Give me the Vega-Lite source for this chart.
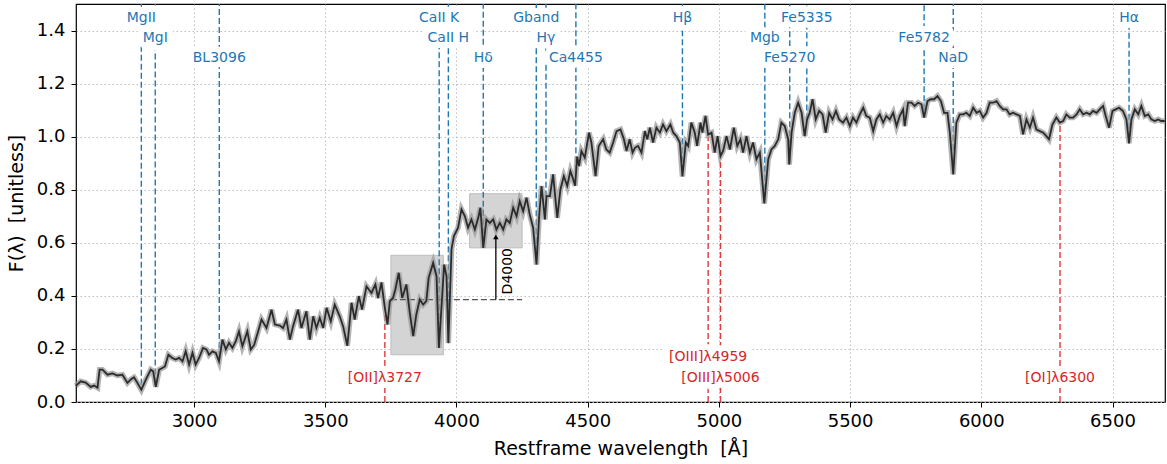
{
  "$schema": "https://vega.github.io/schema/vega-lite/v6.json",
  "width": 1089,
  "height": 398,
  "autosize": {"type": "none"},
  "padding": {"left": 76, "top": 4, "right": 2, "bottom": 62},
  "background": "white",
  "config": {
    "view": {"stroke": "black", "strokeWidth": 1.2},
    "font": "DejaVu Sans",
    "axis": {
      "labelFont": "DejaVu Sans", "labelFontSize": 18, "labelColor": "black",
      "titleFont": "DejaVu Sans", "titleFontSize": 19, "titleFontWeight": "normal", "titleColor": "black",
      "tickColor": "black", "tickSize": 5, "tickWidth": 1, "domain": false,
      "gridColor": "#b8b8b8", "gridDash": [1.5, 2.5], "gridWidth": 0.9
    }
  },
  "datasets": {
    "spec": [
      {"w":2549,"f":0.061},{"w":2568,"f":0.078},{"w":2587,"f":0.073},{"w":2606,"f":0.057},{"w":2619,"f":0.062},{"w":2632,"f":0.054},{"w":2640,"f":0.122},{"w":2651,"f":0.122},{"w":2670,"f":0.103},{"w":2689,"f":0.108},{"w":2708,"f":0.100},{"w":2727,"f":0.103},{"w":2746,"f":0.072},{"w":2759,"f":0.085},{"w":2771,"f":0.093},{"w":2784,"f":0.072},{"w":2799,"f":0.046},{"w":2816,"f":0.084},{"w":2835,"f":0.122},{"w":2844,"f":0.116},{"w":2854,"f":0.057},{"w":2867,"f":0.122},{"w":2879,"f":0.128},{"w":2889,"f":0.134},{"w":2902,"f":0.178},{"w":2917,"f":0.166},{"w":2930,"f":0.160},{"w":2943,"f":0.166},{"w":2956,"f":0.153},{"w":2968,"f":0.191},{"w":2981,"f":0.141},{"w":2994,"f":0.185},{"w":3006,"f":0.141},{"w":3019,"f":0.166},{"w":3034,"f":0.204},{"w":3047,"f":0.198},{"w":3057,"f":0.178},{"w":3070,"f":0.191},{"w":3083,"f":0.185},{"w":3095,"f":0.153},{"w":3108,"f":0.235},{"w":3121,"f":0.198},{"w":3133,"f":0.223},{"w":3146,"f":0.204},{"w":3159,"f":0.229},{"w":3171,"f":0.266},{"w":3184,"f":0.210},{"w":3203,"f":0.266},{"w":3216,"f":0.198},{"w":3229,"f":0.215},
      {"w":3244,"f":0.266},{"w":3257,"f":0.311},{"w":3276,"f":0.279},{"w":3295,"f":0.348},{"w":3308,"f":0.292},{"w":3327,"f":0.288},{"w":3339,"f":0.279},{"w":3352,"f":0.311},{"w":3365,"f":0.235},{"w":3377,"f":0.285},{"w":3396,"f":0.348},{"w":3409,"f":0.279},{"w":3428,"f":0.342},{"w":3441,"f":0.235},{"w":3454,"f":0.323},{"w":3466,"f":0.279},{"w":3479,"f":0.317},{"w":3492,"f":0.279},{"w":3505,"f":0.355},{"w":3521,"f":0.304},{"w":3536,"f":0.367},{"w":3555,"f":0.323},{"w":3568,"f":0.285},{"w":3584,"f":0.212},{"w":3600,"f":0.374},{"w":3612,"f":0.311},{"w":3628,"f":0.399},{"w":3640,"f":0.348},{"w":3657,"f":0.436},{"w":3676,"f":0.411},{"w":3691,"f":0.443},{"w":3701,"f":0.392},{"w":3714,"f":0.451},{"w":3727,"f":0.355},{"w":3737,"f":0.292},{"w":3746,"f":0.380},{"w":3758,"f":0.392},{"w":3767,"f":0.424},{"w":3780,"f":0.487},{"w":3793,"f":0.392},{"w":3809,"f":0.443},{"w":3822,"f":0.336},{"w":3835,"f":0.248},{"w":3847,"f":0.330},{"w":3860,"f":0.386},{"w":3873,"f":0.367},{"w":3885,"f":0.380},{"w":3894,"f":0.468},{"w":3911,"f":0.524},{"w":3924,"f":0.474},{"w":3933,"f":0.204},{"w":3943,"f":0.361},{"w":3953,"f":0.518},{"w":3962,"f":0.474},{"w":3969,"f":0.222},
      {"w":3981,"f":0.575},{"w":3990,"f":0.625},{"w":4006,"f":0.657},{"w":4019,"f":0.726},{"w":4032,"f":0.700},{"w":4044,"f":0.657},{"w":4057,"f":0.688},{"w":4070,"f":0.650},{"w":4083,"f":0.694},{"w":4091,"f":0.732},{"w":4102,"f":0.581},{"w":4114,"f":0.688},{"w":4127,"f":0.675},{"w":4140,"f":0.688},{"w":4152,"f":0.650},{"w":4165,"f":0.675},{"w":4178,"f":0.650},{"w":4190,"f":0.688},{"w":4203,"f":0.675},{"w":4216,"f":0.732},{"w":4229,"f":0.700},{"w":4241,"f":0.757},{"w":4254,"f":0.719},{"w":4267,"f":0.770},{"w":4279,"f":0.707},{"w":4292,"f":0.657},{"w":4305,"f":0.518},{"w":4315,"f":0.700},{"w":4324,"f":0.814},{"w":4337,"f":0.688},{"w":4343,"f":0.776},{"w":4356,"f":0.776},{"w":4368,"f":0.858},{"w":4384,"f":0.694},{"w":4396,"f":0.801},{"w":4409,"f":0.851},{"w":4422,"f":0.814},{"w":4434,"f":0.870},{"w":4445,"f":0.839},{"w":4452,"f":0.815},{"w":4460,"f":0.925},{"w":4467,"f":0.889},{"w":4476,"f":0.946},{"w":4489,"f":0.921},{"w":4505,"f":1.015},{"w":4514,"f":0.978},{"w":4530,"f":0.851},{"w":4542,"f":0.965},{"w":4559,"f":0.990},{"w":4571,"f":0.952},{"w":4584,"f":0.940},{"w":4597,"f":0.978},{"w":4610,"f":1.021},{"w":4625,"f":1.027},{"w":4638,"f":0.990},{"w":4648,"f":0.946},{"w":4660,"f":0.990},{"w":4671,"f":0.940},{"w":4680,"f":0.958},{"w":4692,"f":0.965},{"w":4705,"f":0.940},{"w":4718,"f":1.021},{"w":4727,"f":0.990},{"w":4737,"f":1.034},{"w":4749,"f":0.978},{"w":4762,"f":1.034},{"w":4775,"f":1.015},{"w":4787,"f":1.046},{"w":4800,"f":1.021},{"w":4815,"f":1.046},{"w":4826,"f":1.015},{"w":4838,"f":1.002},{"w":4851,"f":0.978},{"w":4861,"f":0.850},{"w":4874,"f":0.978},{"w":4883,"f":0.965},{"w":4895,"f":1.053},{"w":4908,"f":1.015},{"w":4917,"f":0.965},{"w":4930,"f":1.053},{"w":4937,"f":1.015},{"w":4949,"f":1.078},{"w":4959,"f":1.008},{"w":4972,"f":1.015},{"w":4984,"f":0.940},{"w":4995,"f":1.002},{"w":5006,"f":0.927},{"w":5016,"f":0.946},{"w":5029,"f":1.002},{"w":5042,"f":0.952},{"w":5057,"f":1.034},{"w":5070,"f":0.965},{"w":5082,"f":0.990},{"w":5092,"f":0.940},{"w":5105,"f":1.002},{"w":5118,"f":0.940},{"w":5130,"f":0.978},{"w":5143,"f":0.915},{"w":5156,"f":0.940},{"w":5173,"f":0.748},{"w":5188,"f":0.915},{"w":5200,"f":0.952},{"w":5213,"f":0.965},{"w":5226,"f":0.990},{"w":5238,"f":1.053},{"w":5251,"f":1.040},{"w":5264,"f":0.990},{"w":5268,"f":0.895},{"w":5277,"f":1.015},{"w":5289,"f":1.090},{"w":5302,"f":1.128},{"w":5315,"f":1.090},{"w":5327,"f":1.002},{"w":5336,"f":1.065},{"w":5346,"f":1.090},{"w":5357,"f":1.141},{"w":5369,"f":1.065},{"w":5382,"f":1.097},{"w":5395,"f":1.084},{"w":5407,"f":1.015},{"w":5420,"f":1.090},{"w":5433,"f":1.065},{"w":5446,"f":1.097},{"w":5458,"f":1.065},{"w":5473,"f":1.053},{"w":5486,"f":1.072},
      {"w":5499,"f":1.040},{"w":5511,"f":1.072},{"w":5524,"f":1.053},{"w":5537,"f":1.084},{"w":5550,"f":1.109},{"w":5562,"f":1.078},{"w":5575,"f":1.072},{"w":5588,"f":1.021},{"w":5600,"f":1.065},{"w":5613,"f":1.084},{"w":5626,"f":1.053},{"w":5638,"f":1.078},{"w":5651,"f":1.065},{"w":5664,"f":1.090},{"w":5677,"f":1.040},{"w":5689,"f":1.078},{"w":5702,"f":1.103},{"w":5708,"f":1.040},{"w":5721,"f":1.128},{"w":5734,"f":1.128},{"w":5746,"f":1.116},{"w":5759,"f":1.128},{"w":5772,"f":1.122},{"w":5782,"f":1.072},{"w":5795,"f":1.134},{"w":5807,"f":1.141},{"w":5820,"f":1.141},{"w":5833,"f":1.153},{"w":5846,"f":1.134},{"w":5858,"f":1.090},{"w":5871,"f":1.090},{"w":5880,"f":1.015},{"w":5893,"f":0.858},{"w":5905,"f":1.053},{"w":5918,"f":1.084},{"w":5931,"f":1.084},{"w":5943,"f":1.090},{"w":5956,"f":1.078},{"w":5969,"f":1.109},{"w":5982,"f":1.090},{"w":5994,"f":1.097},{"w":6007,"f":1.072},{"w":6020,"f":1.090},{"w":6032,"f":1.128},{"w":6045,"f":1.128},{"w":6058,"f":1.134},{"w":6070,"f":1.116},{"w":6083,"f":1.103},{"w":6096,"f":1.103},{"w":6108,"f":1.084},{"w":6121,"f":1.090},{"w":6134,"f":1.084},{"w":6147,"f":1.078},{"w":6159,"f":1.009},{"w":6172,"f":1.065},{"w":6185,"f":1.034},{"w":6197,"f":1.072},{"w":6210,"f":1.027},{"w":6223,"f":1.021},{"w":6236,"f":1.015},{"w":6248,"f":1.002},{"w":6258,"f":0.990},{"w":6271,"f":1.046},{"w":6286,"f":1.072},{"w":6299,"f":1.053},{"w":6312,"f":1.059},{"w":6324,"f":1.084},{"w":6337,"f":1.072},{"w":6350,"f":1.072},{"w":6363,"f":1.084},{"w":6375,"f":1.103},{"w":6388,"f":1.084},{"w":6401,"f":1.090},{"w":6413,"f":1.084},{"w":6426,"f":1.097},{"w":6439,"f":1.090},{"w":6451,"f":1.103},{"w":6464,"f":1.116},{"w":6474,"f":1.078},{"w":6487,"f":1.034},{"w":6500,"f":1.097},{"w":6512,"f":1.103},{"w":6525,"f":1.109},{"w":6540,"f":1.097},{"w":6553,"f":1.065},{"w":6563,"f":0.975},{"w":6572,"f":1.065},{"w":6585,"f":1.103},{"w":6598,"f":1.084},{"w":6610,"f":1.116},{"w":6623,"f":1.078},{"w":6636,"f":1.084},{"w":6648,"f":1.065},{"w":6661,"f":1.059},{"w":6674,"f":1.065},{"w":6686,"f":1.059},{"w":6699,"f":1.059}
    ],
    "abs": [
      {"n":"MgII","w":2799,"f":0.065,"f2":1.5},{"n":"MgI","w":2852,"f":0.07,"f2":1.5},{"n":"BL3096","w":3096,"f":0.17,"f2":1.5},
      {"n":"CaII K","w":3934,"f":0.21,"f2":1.5},{"n":"CaII H","w":3969,"f":0.225,"f2":1.5},{"n":"Hδ","w":4102,"f":0.6,"f2":1.5},
      {"n":"Gband","w":4304,"f":0.53,"f2":1.5},{"n":"Hγ","w":4341,"f":0.74,"f2":1.5},{"n":"Ca4455","w":4455,"f":0.87,"f2":1.5},
      {"n":"Hβ","w":4861,"f":0.87,"f2":1.5},{"n":"Mgb","w":5175,"f":0.8,"f2":1.5},{"n":"Fe5270","w":5270,"f":0.9,"f2":1.5},
      {"n":"Fe5335","w":5335,"f":1.065,"f2":1.5},{"n":"Fe5782","w":5782,"f":1.1,"f2":1.5},{"n":"NaD","w":5893,"f":0.95,"f2":1.5},
      {"n":"Hα","w":6563,"f":1.03,"f2":1.5}
    ],
    "em": [
      {"n":"[OII]λ3727","w":3727,"f":0,"f2":0.33},{"n":"[OIII]λ4959","w":4959,"f":0,"f2":1.0},
      {"n":"[OIII]λ5006","w":5006,"f":0,"f2":0.94},{"n":"[OI]λ6300","w":6300,"f":0,"f2":1.04}
    ],
    "abslab": [
      {"n":"MgII","w":2799,"f":1.446},{"n":"MgI","w":2852,"f":1.371},{"n":"BL3096","w":3096,"f":1.297},
      {"n":"CaII K","w":3934,"f":1.446},{"n":"CaII H","w":3969,"f":1.371},{"n":"Hδ","w":4102,"f":1.297},
      {"n":"Gband","w":4304,"f":1.446},{"n":"Hγ","w":4341,"f":1.371},{"n":"Ca4455","w":4455,"f":1.297},
      {"n":"Hβ","w":4861,"f":1.446},{"n":"Mgb","w":5175,"f":1.371},{"n":"Fe5270","w":5270,"f":1.297},
      {"n":"Fe5335","w":5335,"f":1.446},{"n":"Fe5782","w":5782,"f":1.371},{"n":"NaD","w":5893,"f":1.297},
      {"n":"Hα","w":6563,"f":1.446}
    ],
    "emlab": [
      {"n":"[OII]λ3727","w":3727,"f":0.092},{"n":"[OIII]λ4959","w":4959,"f":0.17},
      {"n":"[OIII]λ5006","w":5006,"f":0.092},{"n":"[OI]λ6300","w":6300,"f":0.092}
    ],
    "win": [
      {"w":3750,"w2":3950,"f":0.178,"f2":0.553},
      {"w":4050,"w2":4250,"f":0.581,"f2":0.785}
    ],
    "base": [{"w":3750,"w2":4250,"f":0.386}],
    "arrow": [{"w":4150,"f":0.386,"f2":0.615}],
    "head": [{"w":4150,"f":0.622}],
    "dlab": [{"n":"D4000","w":4197,"f":0.493}]
  },
  "encoding": {
    "x": {"field": "w", "type": "quantitative",
      "scale": {"domain": [2550, 6700], "nice": false, "zero": false},
      "axis": {"values": [3000,3500,4000,4500,5000,5500,6000,6500], "format": "d", "labelPadding": 5, "titlePadding": 9, "grid": true},
      "title": "Restframe wavelength \u00a0[Å]"},
    "y": {"field": "f", "type": "quantitative",
      "scale": {"domain": [0, 1.5], "nice": false, "zero": false},
      "axis": {"values": [0,0.2,0.4,0.6,0.8,1.0,1.2,1.4], "format": ".1f", "labelPadding": 6, "titlePadding": 10, "grid": true},
      "title": "F(λ) \u00a0[unitless]"}
  },
  "layer": [
    {"data": {"name": "win"}, "mark": {"type": "rect", "fill": "#d4d4d4", "stroke": "#bdbdbd", "strokeWidth": 1},
     "encoding": {"x2": {"field": "w2"}, "y2": {"field": "f2"}}},
    {"data": {"name": "abs"}, "mark": {"type": "rule", "color": "#1f77b4", "strokeWidth": 1.4, "strokeDash": [6, 3]},
     "encoding": {"y2": {"field": "f2"}}},
    {"data": {"name": "em"}, "mark": {"type": "rule", "color": "#e0393a", "strokeWidth": 1.4, "strokeDash": [6, 3]},
     "encoding": {"y2": {"field": "f2"}}},
    {"data": {"name": "base"}, "mark": {"type": "rule", "color": "#555555", "strokeWidth": 1.4, "strokeDash": [6, 3]},
     "encoding": {"x2": {"field": "w2"}}},
    {"data": {"name": "spec"}, "mark": {"type": "line", "color": "#9c9c9c", "strokeWidth": 5.5, "opacity": 0.75}, "encoding": {}},
    {"data": {"name": "spec"}, "mark": {"type": "line", "color": "#2b2b2b", "strokeWidth": 1.8}, "encoding": {}},
    {"data": {"name": "arrow"}, "mark": {"type": "rule", "color": "black", "strokeWidth": 1.3},
     "encoding": {"y2": {"field": "f2"}}},
    {"data": {"name": "head"}, "mark": {"type": "point", "shape": "triangle-up", "filled": true, "color": "black", "size": 30, "opacity": 1}, "encoding": {}},
    {"data": {"name": "abslab"}, "mark": {"type": "text", "fontSize": 14, "font": "DejaVu Sans", "fill": "white", "stroke": "white", "strokeWidth": 12, "strokeJoin": "round", "baseline": "middle", "align": "center"},
     "encoding": {"text": {"field": "n"}}},
    {"data": {"name": "abslab"}, "mark": {"type": "text", "fontSize": 14, "font": "DejaVu Sans", "color": "#1f77b4", "baseline": "middle", "align": "center"},
     "encoding": {"text": {"field": "n"}}},
    {"data": {"name": "emlab"}, "mark": {"type": "text", "fontSize": 14, "font": "DejaVu Sans", "fill": "white", "stroke": "white", "strokeWidth": 12, "strokeJoin": "round", "baseline": "middle", "align": "center"},
     "encoding": {"text": {"field": "n"}}},
    {"data": {"name": "emlab"}, "mark": {"type": "text", "fontSize": 14, "font": "DejaVu Sans", "color": "#d62728", "baseline": "middle", "align": "center"},
     "encoding": {"text": {"field": "n"}}},
    {"data": {"name": "dlab"}, "mark": {"type": "text", "fontSize": 14, "font": "DejaVu Sans", "color": "black", "angle": 270, "baseline": "middle", "align": "center"},
     "encoding": {"text": {"field": "n"}}}
  ]
}
